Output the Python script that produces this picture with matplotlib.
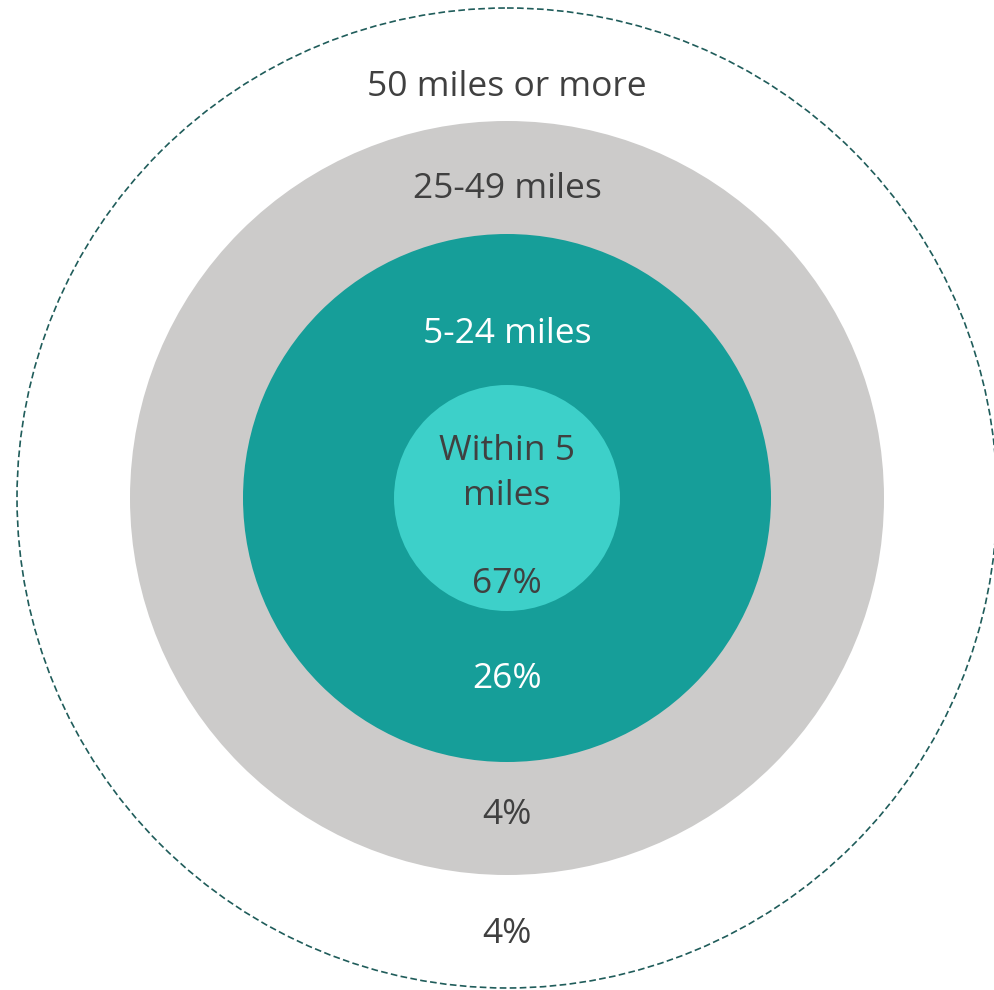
import matplotlib.pyplot as plt
from matplotlib.patches import Circle

# distance bands, innermost first
categories = ['Within 5\nmiles', '5-24 miles', '25-49 miles', '50 miles or more']
shares = [67, 26, 4, 4]

# drawing style per ring (outermost ring is only a dashed outline)
radii = [113, 264, 377, 490]
fills = ['#3DD0C9', '#169E99', '#CCCBCA', 'none']
text_colors = ['#404040', '#FFFFFF', '#404040', '#404040']
label_base = [460, 343, 198, 96]    # baseline of first label line (px)
value_base = [593, 688, 824, 943]
line_gap = 45

cx, cy = 507, 498

plt.rcParams['font.family'] = ['Open Sans', 'DejaVu Sans']

fig = plt.figure(figsize=(9.94, 9.90), dpi=100)
ax = fig.add_axes([0, 0, 1, 1])
ax.set_xlim(0, 994)
ax.set_ylim(990, 0)
ax.set_aspect('equal')
ax.axis('off')

# draw from the outside in so inner discs sit on top
for i in reversed(range(len(categories))):
    if fills[i] == 'none':
        ax.add_patch(Circle((cx, cy), radii[i], facecolor='none',
                            edgecolor='#1F5C5A', linestyle=(0, (4, 2)),
                            linewidth=1.2, zorder=1))
    else:
        ax.add_patch(Circle((cx, cy), radii[i], facecolor=fills[i],
                            edgecolor='none', zorder=2 + (3 - i)))

fs = 25.5
for i, cat in enumerate(categories):
    for j, line in enumerate(cat.split('\n')):
        ax.text(cx, label_base[i] + j * line_gap, line, ha='center',
                va='baseline', fontsize=fs, color=text_colors[i], zorder=10)
    ax.text(cx, value_base[i], '{}%'.format(shares[i]), ha='center',
            va='baseline', fontsize=fs, color=text_colors[i], zorder=10)

fig.savefig('out.png', dpi=100)
